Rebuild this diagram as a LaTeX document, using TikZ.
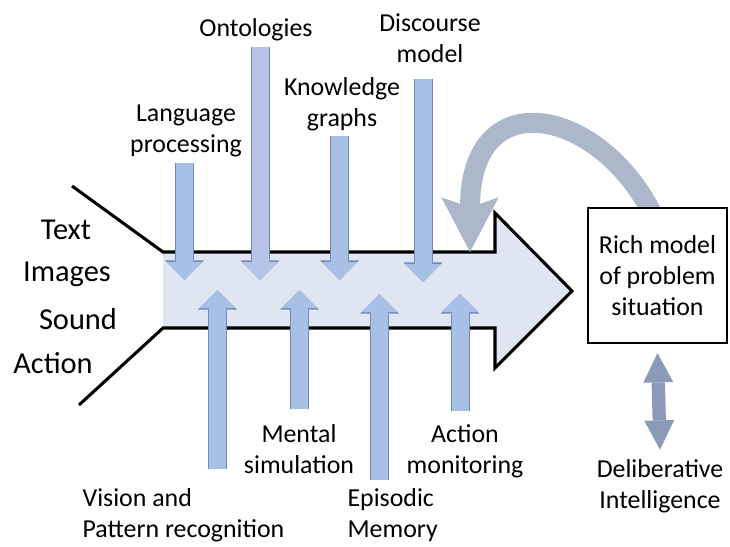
\documentclass[tikz,border=0pt]{standalone}
\usepackage{fontspec}
\setmainfont{Carlito}
\usetikzlibrary{arrows.meta,positioning,backgrounds}
\definecolor{inblue}{HTML}{A8C0E5}
\definecolor{ontblue}{HTML}{B5C4E7}
\definecolor{inedge}{HTML}{7088BC}
\definecolor{flowfill}{HTML}{E0E6F1}
\definecolor{loopgray}{HTML}{ADB7CA}
\definecolor{delibgray}{HTML}{8B9AB6}

\begin{document}
\begin{tikzpicture}[x=0.75pt,y=-0.75pt,
                lbl/.style={font=\fontsize{19.4}{23.3}\selectfont,inner sep=1pt,align=center},
                srclbl/.style={lbl,font=\fontsize{22.8}{27}\selectfont},
                inarrow/.style={draw=inblue,line width=12.75pt,shorten <=3pt,
                -{Triangle[length=13.5pt,width=27pt,line width=0pt]},
                preaction={draw=inedge,line width=14.25pt,
                -{Triangle[length=14.8pt,width=29.5pt,line width=0pt]}}},
                feedback/.style={draw=loopgray,line width=15pt,
                -{Stealth[length=41pt,width=43pt,inset=7.5pt,line width=0pt]}},
                dblarrow/.style={draw=delibgray,line width=10pt,
                {Triangle[length=22pt,width=22.5pt,line width=0pt]}-{Triangle[length=22pt,width=22.5pt,line width=0pt]}}]
                \useasboundingbox (0,0) rectangle (730,546);
                % labels
                \node[lbl] (langlbl) at (186,131) {Language\\processing};
                \node[lbl] (ontlbl) at (256,30) {Ontologies};
                \node[lbl] (knowlbl) at (342,104) {Knowledge\\graphs};
                \node[lbl] (disclbl) at (430,38) {Discourse\\model};
                \node[lbl,align=left,anchor=west] (vislbl) at (81,515) {Vision and\\Pattern recognition};
                \node[lbl] (mentlbl) at (299,449) {Mental\\simulation};
                \node[lbl,align=left,anchor=west] (epilbl) at (346,515) {Episodic\\Memory};
                \node[lbl] (actlbl) at (465,451) {Action\\monitoring};
                \node[srclbl] (textlbl) at (66,230) {Text};
                \node[srclbl] (imglbl) at (67,274) {Images};
                \node[srclbl] (soundlbl) at (78,319) {Sound};
                \node[srclbl] (actionlbl) at (53,363) {Action};
                \node[lbl,draw,line width=1.9pt,fill=white,minimum width=104pt,
                      minimum height=101pt] (richbox) at (657.5,275.5) {Rich model\\of problem\\situation};
                \node[lbl] (delib) at (660,486) {Deliberative\\Intelligence};
                % tips on the main arrow
                \coordinate (lang-t) at (184.5,280);
                \coordinate (ont-t) at (260,280);
                \coordinate (know-t) at (339.5,280);
                \coordinate (disc-t) at (423,282);
                \coordinate (vis-t) at (217.5,290);
                \coordinate (ment-t) at (299.5,290);
                \coordinate (epi-t) at (379.5,294);
                \coordinate (act-t) at (460,294);
                \coordinate (fb-s) at ([shift={(-3.4pt,-6pt)}]richbox.north);
                \coordinate (fb-t) at (470,252);
                % main arrow and feedback loop
                \begin{pgfonlayer}{background}
                \fill[flowfill] (163,252) -- (495,252) -- (495,213) -- (572,291)
                      -- (495,368) -- (495,328) -- (163,328) -- cycle;
                \draw[line width=2.3pt,line join=miter] (72,186) -- (163,252) -- (495,252)
                      -- (495,213) -- (572,291) -- (495,368) -- (495,328) -- (163,328) -- (79,405);
                \draw[feedback] (fb-s) .. controls (600,108) and (470,80) .. (fb-t);
                \end{pgfonlayer}
                % inputs
                \draw[inarrow] (lang-t |- langlbl.south) -- (lang-t);
                \draw[inarrow,draw=ontblue] (ont-t |- ontlbl.south) -- (ont-t);
                \draw[inarrow] (know-t |- knowlbl.south) -- (know-t);
                \draw[inarrow,shorten <=11pt] (disc-t |- disclbl.south) -- (disc-t);
                \draw[inarrow,shorten <=13pt] (vis-t |- vislbl.north) -- (vis-t);
                \draw[inarrow,shorten <=10.5pt] (ment-t |- mentlbl.north) -- (ment-t);
                \draw[inarrow,shorten <=5pt] (epi-t |- epilbl.north) -- (epi-t);
                \draw[inarrow,shorten <=9pt] (act-t |- actlbl.north) -- (act-t);
                \draw[dblarrow] ([yshift=-6.75pt]richbox.south) -- ([yshift=6pt]delib.north);
            \end{tikzpicture}
\end{document}
